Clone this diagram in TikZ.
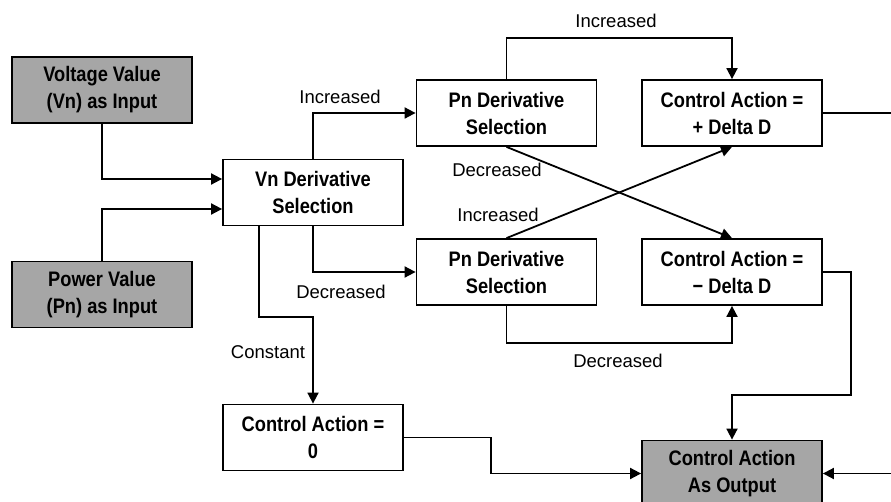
\documentclass[tikz,border=0pt]{standalone}
\usepackage{fontspec}
\setmainfont{Liberation Sans}
\newfontfamily\boxfont[FakeStretch=0.87]{Liberation Sans}
\usetikzlibrary{arrows.meta,calc}
\definecolor{boxgray}{RGB}{166,166,166}
\begin{document}
\begin{tikzpicture}[x=1pt,y=-1pt,
  blk/.style={draw=black,line width=1.8pt,minimum width=180pt,minimum height=66pt,
    inner sep=0pt,align=center,font=\boxfont\bfseries\fontsize{21}{27}\selectfont},
  gblk/.style={blk,fill=boxgray},
  conn/.style={line width=1.8pt},
  arr/.style={conn,-{Triangle[length=11pt,width=11pt]}},
  lbl/.style={font=\fontsize{18.5}{22}\selectfont,inner sep=0pt}]
\clip (0,0) rectangle (891,502);
\fill[white] (0,0) rectangle (891,502);

\node[gblk] (volt) at (102,90) {Voltage Value\\(Vn) as Input};
\node[gblk] (power) at (102,294.5) {Power Value\\(Pn) as Input};
\node[blk] (vn) at (313,192.5) {Vn Derivative\\Selection};
\node[blk] (pn1) at (506.5,113) {Pn Derivative\\Selection};
\node[blk] (pn2) at (506.5,272) {Pn Derivative\\Selection};
\node[blk] (cp) at (732,113) {Control Action =\\+ Delta D};
\node[blk] (cm) at (732,272) {Control Action =\\− Delta D};
\node[blk] (c0) at (313,437.5) {Control Action =\\0};
\node[gblk] (out) at (732,473.5) {Control Action\\As Output};

\coordinate (k) at (313,317);
\coordinate (r1) at (851,395);
\coordinate (e1) at (891,113);
\coordinate (e2) at (891,473.5);

\draw[arr] (volt.south) |- ($(vn.west)+(0,-13.5)$);
\draw[arr] (power.north) |- ($(vn.west)+(0,16.5)$);
\draw[arr] (vn.north) |- (pn1.west);
\draw[arr] (vn.south) |- (pn2.west);
\draw[arr] ($(vn.south)+(-54,0)$) |- (k) -- (c0.north);
\draw[arr] (pn1.north) -- ++(0,-41) -| (cp.north);
\draw[arr] (pn1.south) -- (cm.north);
\draw[arr] (pn2.north) -- (cp.south);
\draw[arr] (pn2.south) -- ++(0,37) -| (cm.south);
\draw[conn] (cp.east) -- (e1);
\draw[arr] (cm.east) -| (r1) -| (out.north);
\draw[arr] (c0.east) -- ++(87,0) |- (out.west);
\draw[arr] (e2) -- (out.east);

\node[lbl] (l1) at (616,21) {Increased};
\node[lbl] (l2) at (340,97) {Increased};
\node[lbl] (l3) at (341,292) {Decreased};
\node[lbl] (l4) at (497,170) {Decreased};
\node[lbl] (l5) at (498,215) {Increased};
\node[lbl] (l6) at (618,361) {Decreased};
\node[lbl] (l7) at (268,352) {Constant};
\end{tikzpicture}
\end{document}
